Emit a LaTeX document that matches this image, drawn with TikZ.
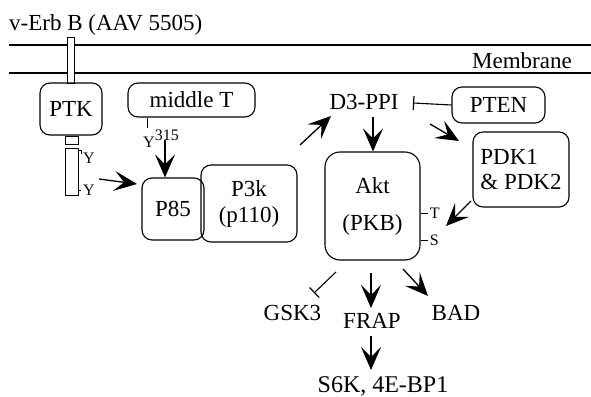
\documentclass[tikz,border=0pt]{standalone}
\usepackage{fontspec}
\setmainfont{Liberation Serif}
\usetikzlibrary{arrows.meta}
\tikzset{
  bigtip/.tip={Stealth[length=23pt,width=20pt,inset=10pt]},
  bartip/.tip={Bar[width=14pt,line width=1.2pt]}}
\begin{document}
\begin{tikzpicture}[x=1pt,y=-1pt,
  every node/.style={inner sep=0pt, font=\fontsize{23}{27}\selectfont},
  box/.style={draw, rounded corners=10pt, line width=1.1pt, align=center},
  lbl/.style={anchor=base},
  small/.style={font=\fontsize{16}{16}\selectfont},
  arr/.style={line width=1.3pt, -bigtip},
  inh/.style={line width=1.1pt, -bartip},
  thin/.style={line width=1pt}]
\path[use as bounding box] (0,0) rectangle (591,396);
% membrane
\coordinate (mL1) at (9,45);  \coordinate (mR1) at (591,45);
\coordinate (mL2) at (9,73);  \coordinate (mR2) at (591,73);
\draw[line width=1.2pt] (mL1) -- (mR1);
\draw[line width=1.2pt] (mL2) -- (mR2);
\node[lbl, anchor=base east] (mem) at (572,68) {Membrane};
\node[lbl, anchor=base west] (verb) at (9,31) {v-Erb B (AAV 5505)};
% receptor
\draw[thin, fill=white] (67,38) rectangle (74,83);
\node[box, minimum width=62pt, minimum height=52pt] (ptk) at (71,109) {PTK};
\draw[thin] (65,136) rectangle (78,144);
\draw[thin] (65,148) rectangle (78,195);
\draw[thin] (78,150) -- (81,150) -- (81,154);
\draw[thin] (78,190) -- (81,190);
\node[small, anchor=west] (y1) at (83,158) {Y};
\node[small, anchor=west] (y2) at (83,190) {Y};
% middle T and P85/P3k
\node[box, minimum width=127pt, minimum height=34pt] (mt) at (191.5,100) {middle T};
\coordinate (mtTail) at (147,128);
\draw[thin] (mt.south -| mtTail) -- (mtTail);
\node[small, anchor=base west] (y315) at (143,147) {Y\raisebox{7pt}{315}};
\node[box, minimum width=62pt, minimum height=62pt] (p85) at (173,209) {P85};
\node[box, minimum width=96pt, minimum height=77pt, font=\fontsize{23}{26}\selectfont] (p3k) at (249,203.5) {P3k\\(p110)};
% Akt
\node[box, rounded corners=15pt, minimum width=95pt, minimum height=108pt, font=\fontsize{23}{37}\selectfont] (akt) at (372.5,206) {Akt\\(PKB)};
\draw[thin] (akt.east |- 0,213) -- ++(7,0) coordinate (tT);
\draw[thin] (akt.east |- 0,240) -- ++(7,0) coordinate (tS);
\node[small, anchor=west] (tl) at ([xshift=2pt]tT) {T};
\node[small, anchor=west] (sl) at ([xshift=2pt]tS) {S};
% D3-PPI, PTEN, PDK
\node (d3) at (364,102) {D3-PPI};
\node[box, minimum width=93pt, minimum height=36pt] (pten) at (498.5,105) {PTEN};
\node[box, minimum width=96pt, minimum height=75pt, align=left, font=\fontsize{23}{25}\selectfont] (pdk) at (521,169.5) {PDK1\\\& PDK2};
% bottom
\node[lbl] (gsk) at (292.5,320) {GSK3};
\node[lbl] (frap) at (372,328) {FRAP};
\node[lbl] (bad) at (456,320) {BAD};
\node[lbl, font=\fontsize{24}{27}\selectfont] (s6k) at (383,392) {S6K, 4E-BP1};
% connectors
\coordinate (a1s) at (99,179);  \coordinate (a1e) at (137,184);
\draw[arr] (a1s) -- (a1e);
\coordinate (a2s) at (165,140); \draw[arr] (a2s) -- (p85.north -| a2s);
\coordinate (a3s) at (300,145); \coordinate (a3e) at (331,116);
\draw[arr] (a3s) -- (a3e);
\coordinate (a4s) at (373,117); \draw[arr] (a4s) -- (akt.north -| a4s);
\coordinate (a5e) at (413,103); \draw[inh] (pten.west) -- (a5e);
\coordinate (a6s) at (430,124); \coordinate (a6e) at (459,141);
\draw[arr] (a6s) -- (a6e);
\coordinate (a7s) at (471,201); \coordinate (a7e) at (446,226);
\draw[arr] (a7s) -- (a7e);
\coordinate (a8s) at (336,272); \coordinate (a8e) at (314,293);
\draw[inh] (a8s) -- (a8e);
\coordinate (a9s) at (371,273); \coordinate (a9e) at (371,308);
\draw[arr] (a9s) -- (a9e);
\coordinate (a10s) at (403,269); \coordinate (a10e) at (428,296);
\draw[arr] (a10s) -- (a10e);
\coordinate (a11s) at (371,336); \coordinate (a11e) at (371,370);
\draw[arr] (a11s) -- (a11e);
\end{tikzpicture}
\end{document}
